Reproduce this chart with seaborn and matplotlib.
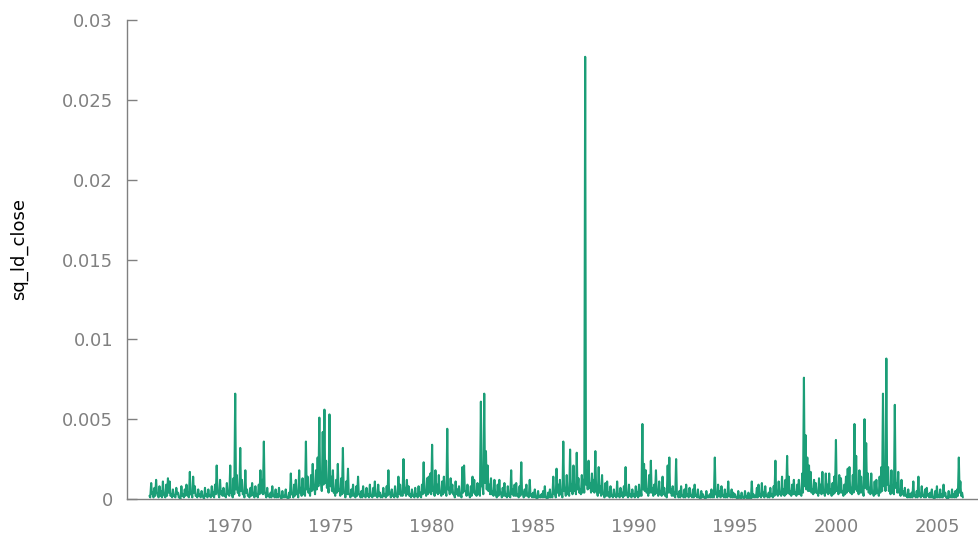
import pandas as pd
import numpy as np
import matplotlib
matplotlib.use('Agg')
import matplotlib.pyplot as plt
import matplotlib.dates as mdates
from matplotlib.ticker import FuncFormatter
import seaborn as sns

# half-monthly readings of sq_ld_close (units of 1e-4), Jan 1966 .. Apr 2006
y1966 = [2, 1, 10, 3, 4, 1, 7, 2, 12, 4, 3, 1, 8, 2, 5, 1, 11, 3, 2, 1, 9, 2, 13, 4]
y1967 = [11, 2, 3, 1, 6, 2, 2, 1, 7, 3, 4, 1, 1, 0, 8, 2, 3, 1, 6, 2, 9, 3, 2, 1]
y1968 = [17, 3, 3, 1, 14, 4, 8, 2, 2, 1, 6, 2, 3, 1, 5, 2, 1, 0, 7, 2, 3, 1, 6, 2]
y1969 = [2, 1, 8, 2, 4, 1, 9, 3, 21, 5, 3, 1, 12, 3, 5, 2, 7, 2, 2, 1, 10, 3, 4, 2]
y1970 = [21, 4, 3, 1, 13, 3, 66, 6, 15, 4, 4, 2, 32, 5, 12, 3, 3, 1, 18, 4, 6, 2, 2, 1]
y1971 = [7, 2, 10, 3, 2, 1, 8, 2, 3, 1, 9, 3, 18, 4, 12, 3, 36, 4, 3, 1, 7, 2, 2, 1]
y1972 = [4, 1, 8, 2, 2, 1, 6, 1, 3, 1, 7, 2, 1, 0, 5, 1, 2, 1, 6, 1, 1, 0, 4, 1]
y1973 = [16, 3, 3, 1, 9, 2, 12, 3, 4, 1, 18, 4, 7, 2, 13, 3, 5, 2, 36, 6, 14, 4, 6, 2]
y1974 = [15, 5, 22, 6, 8, 3, 18, 6, 26, 8, 51, 10, 11, 5, 42, 9, 56, 10, 24, 7, 9, 4, 53, 8]
y1975 = [14, 5, 18, 4, 5, 2, 12, 4, 22, 5, 6, 2, 13, 3, 32, 4, 4, 1, 11, 3, 19, 3, 3, 1]
y1976 = [6, 2, 9, 2, 2, 1, 8, 2, 14, 3, 3, 1, 5, 1, 8, 2, 2, 1, 7, 2, 3, 1, 9, 2]
y1977 = [2, 1, 7, 2, 11, 2, 3, 1, 9, 2, 4, 1, 2, 1, 7, 2, 3, 1, 8, 2, 18, 3, 4, 1]
y1978 = [6, 2, 2, 1, 8, 2, 3, 1, 14, 3, 9, 2, 4, 2, 25, 4, 7, 2, 12, 3, 8, 2, 3, 1]
y1979 = [6, 2, 2, 1, 7, 2, 3, 1, 8, 2, 4, 1, 9, 3, 23, 4, 5, 2, 13, 3, 14, 4, 16, 3]
y1980 = [34, 5, 6, 2, 18, 4, 9, 3, 15, 4, 4, 2, 11, 3, 14, 4, 5, 2, 44, 6, 7, 3, 13, 4]
y1981 = [9, 3, 3, 1, 11, 3, 6, 2, 8, 2, 3, 1, 20, 4, 21, 5, 5, 2, 9, 3, 3, 1, 8, 2]
y1982 = [14, 4, 12, 3, 4, 2, 10, 3, 5, 2, 61, 8, 8, 3, 66, 10, 30, 6, 21, 5, 9, 3, 13, 3]
y1983 = [5, 2, 12, 3, 3, 1, 9, 2, 12, 3, 4, 1, 7, 2, 10, 2, 3, 1, 8, 2, 2, 1, 18, 3]
y1984 = [6, 2, 9, 2, 10, 2, 3, 1, 8, 2, 23, 3, 4, 1, 6, 2, 9, 2, 2, 1, 12, 2, 3, 1]
y1985 = [4, 1, 6, 1, 1, 0, 5, 1, 2, 1, 3, 1, 5, 1, 8, 1, 1, 0, 4, 1, 6, 1, 2, 1]
y1986 = [14, 3, 4, 1, 19, 4, 9, 2, 12, 3, 3, 1, 36, 5, 7, 2, 15, 3, 5, 2, 31, 5, 9, 3]
y1987 = [21, 5, 8, 3, 29, 6, 13, 4, 6, 3, 15, 4, 12, 4, 277, 9, 18, 6, 24, 7, 10, 4, 16, 5]
y1988 = [12, 4, 30, 5, 5, 2, 20, 4, 8, 2, 15, 3, 3, 1, 10, 2, 11, 2, 4, 1, 8, 2, 2, 1]
y1989 = [6, 2, 2, 1, 11, 2, 3, 1, 7, 2, 4, 1, 8, 2, 20, 3, 2, 1, 9, 2, 3, 1, 6, 2]
y1990 = [3, 1, 8, 2, 4, 1, 9, 2, 5, 2, 47, 6, 22, 5, 18, 4, 6, 2, 15, 4, 24, 4, 7, 2]
y1991 = [9, 3, 18, 4, 4, 2, 11, 3, 5, 2, 14, 3, 7, 2, 3, 1, 21, 4, 26, 4, 6, 2, 8, 2]
y1992 = [4, 1, 25, 3, 3, 1, 5, 1, 8, 2, 2, 1, 6, 1, 9, 2, 3, 1, 7, 2, 2, 1, 6, 1]
y1993 = [9, 2, 2, 1, 6, 1, 1, 0, 5, 1, 3, 1, 1, 0, 5, 1, 2, 1, 3, 1, 6, 1, 2, 1]
y1994 = [26, 3, 3, 1, 9, 2, 5, 1, 8, 2, 2, 1, 6, 1, 3, 1, 11, 2, 2, 1, 6, 1, 4, 1]
y1995 = [3, 1, 1, 0, 5, 1, 2, 0, 4, 1, 1, 0, 5, 1, 2, 0, 4, 1, 1, 0, 11, 1, 3, 1]
y1996 = [2, 1, 7, 1, 9, 2, 3, 1, 10, 2, 4, 1, 8, 2, 2, 1, 4, 1, 7, 2, 3, 1, 8, 2]
y1997 = [24, 3, 5, 2, 11, 3, 4, 2, 14, 3, 6, 2, 12, 3, 27, 4, 14, 3, 5, 2, 9, 3, 12, 3]
y1998 = [4, 2, 9, 3, 12, 3, 5, 2, 16, 4, 76, 8, 40, 6, 26, 5, 21, 5, 17, 4, 6, 3, 12, 4]
y1999 = [10, 4, 4, 2, 13, 4, 9, 3, 17, 4, 5, 2, 16, 4, 9, 3, 16, 4, 6, 2, 10, 3, 14, 4]
y2000 = [37, 5, 6, 3, 15, 4, 13, 4, 5, 2, 9, 3, 14, 4, 19, 5, 20, 4, 7, 3, 15, 4, 47, 6]
y2001 = [27, 5, 6, 3, 18, 4, 14, 4, 5, 2, 50, 7, 35, 6, 16, 4, 7, 3, 16, 4, 4, 2, 11, 3]
y2002 = [12, 4, 5, 2, 14, 4, 20, 5, 66, 8, 19, 5, 88, 9, 20, 5, 8, 3, 18, 4, 6, 3, 59, 7]
y2003 = [10, 4, 17, 4, 4, 2, 12, 3, 5, 2, 7, 2, 2, 1, 6, 1, 3, 1, 4, 1, 11, 2, 2, 1]
y2004 = [5, 1, 14, 2, 3, 1, 8, 2, 2, 1, 6, 1, 7, 2, 3, 1, 4, 1, 6, 1, 1, 0, 5, 1]
y2005 = [8, 1, 2, 1, 6, 1, 3, 1, 9, 2, 4, 1, 1, 0, 5, 1, 2, 1, 6, 1, 3, 1, 5, 1]
y2006 = [6, 2, 26, 4, 11, 2, 4, 1]

years = [y1966, y1967, y1968, y1969, y1970, y1971, y1972, y1973, y1974, y1975,
         y1976, y1977, y1978, y1979, y1980, y1981, y1982, y1983, y1984, y1985,
         y1986, y1987, y1988, y1989, y1990, y1991, y1992, y1993, y1994, y1995,
         y1996, y1997, y1998, y1999, y2000, y2001, y2002, y2003, y2004, y2005,
         y2006]
tick_years = [1970, 1975, 1980, 1985, 1990, 1995, 2000, 2005]

values = [v * 1e-4 for yr in years for v in yr]
df = pd.DataFrame({
    'date': pd.date_range('1966-01-01', periods=len(values), freq='SMS'),
    'sq_ld_close': values,
})

sns.set_style('white')
plt.rcParams['font.family'] = ['DejaVu Sans']

fig = plt.figure(figsize=(9.79, 5.43), dpi=100)
ax = fig.add_axes([0.1297, 0.081, 0.8703, 0.882])

sns.lineplot(data=df, x='date', y='sq_ld_close', color='#1b9e77', linewidth=1.5, ax=ax)

ax.set_xlim(pd.Timestamp('1964-11-20'), pd.Timestamp('2007-02-01'))
ax.set_ylim(0, 0.03)
ax.set_yticks([0, 0.005, 0.01, 0.015, 0.02, 0.025, 0.03])
ax.yaxis.set_major_formatter(FuncFormatter(lambda v, p: f'{v:g}'))
ax.set_xticks([pd.Timestamp(f'{y}-01-01') for y in tick_years])
ax.xaxis.set_major_formatter(mdates.DateFormatter('%Y'))

gray = '#808080'
ax.tick_params(axis='y', left=True, direction='in', length=7, width=1, color=gray,
               labelcolor=gray, labelsize=13, pad=10)
ax.tick_params(axis='x', bottom=False, length=0, labelcolor=gray, labelsize=13, pad=14)

for s in ['top', 'right']:
    ax.spines[s].set_visible(False)
for s in ['left', 'bottom']:
    ax.spines[s].set_color(gray)
    ax.spines[s].set_linewidth(1)

ax.set_xlabel('')
ax.set_ylabel('sq_ld_close', fontsize=13, color='black')
ax.yaxis.set_label_coords(-0.116, 0.523)

fig.savefig('out.png', dpi=100)
